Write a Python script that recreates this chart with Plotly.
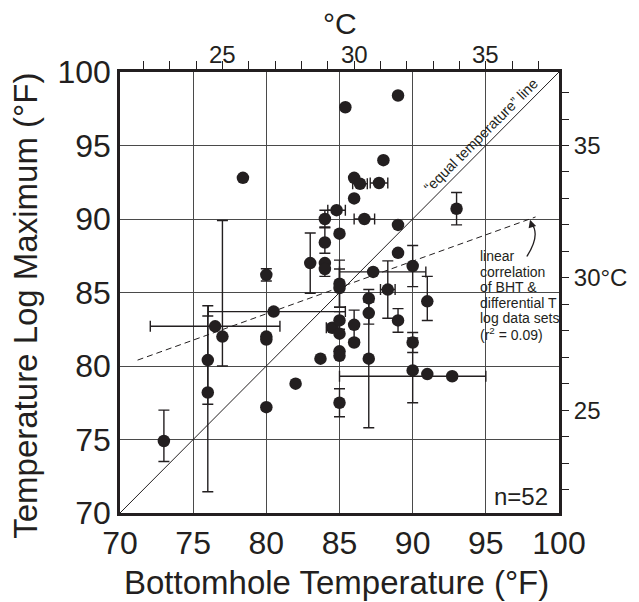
import plotly.graph_objects as go

# ---- data ----
bht = [73.0, 76.0, 76.0, 76.5, 77.0, 78.4, 80.0, 80.0, 80.0, 80.0,
       80.5, 82.0, 83.0, 83.7, 84.0, 84.0, 84.0, 84.0, 84.5, 84.8,
       85.0, 85.0, 85.0, 85.0, 85.0, 85.0, 85.0, 85.0, 85.4, 86.0,
       86.0, 86.0, 86.0, 86.4, 86.7, 87.0, 87.0, 87.0, 87.3, 87.7,
       88.0, 88.3, 89.0, 89.0, 89.0, 89.0, 90.0, 90.0, 90.0, 91.0,
       91.0, 92.7, 93.0]
logmax = [74.9, 80.4, 78.2, 82.7, 82.0, 92.8, 82.0, 81.8, 86.2, 77.2,
          83.7, 78.8, 87.0, 80.5, 90.0, 88.4, 87.0, 86.6, 82.6, 90.6,
          89.0, 85.6, 85.3, 83.1, 82.2, 81.0, 80.7, 77.5, 97.6, 92.8,
          91.4, 82.8, 81.6, 92.4, 90.0, 84.6, 83.6, 80.5, 86.4, 92.45,
          94.0, 85.2, 98.4, 89.6, 87.7, 83.1, 86.8, 81.6, 79.7, 84.4,
          79.45, 79.3, 90.7]
yerr_plus = [2.1, 3.0, 5.9, 0, 7.9, 0, 0, 0, 0.42, 0,
             0, 0, 2.05, 0, 0.6, 1.06, 0, 0, 0, 0,
             0, 1.6, 1.3, 0.6, 0, 0, 0, 0.95, 0, 0,
             0, 1.0, 0, 0, 0, 0, 0.75, 4.7, 0, 0,
             0, 1.95, 0, 0, 0, 0.8, 1.4, 0.68, 2.2, 1.7,
             0, 0, 1.1]
yerr_minus = [1.4, 3.0, 6.75, 0, 2.0, 0, 0, 0, 0.42, 0,
              0, 0, 2.05, 0, 0.6, 0.73, 0, 0.5, 0, 0,
              0, 1.6, 1.3, 0.6, 0, 0, 0, 0.95, 0, 0,
              0, 1.0, 0, 0, 0, 0, 0.75, 4.7, 0, 0,
              0, 1.95, 0, 0, 0, 0.8, 1.4, 0.68, 2.2, 1.3,
              0, 0, 1.1]
xerr_plus = [0, 0, 0, 4.43, 0, 0, 0, 0, 0, 0,
             4.9, 0, 0, 0, 0, 0, 0, 0, 0.4, 0.6,
             0, 0, 0, 0, 0, 0, 0, 0, 0, 0,
             0, 0, 0, 0.5, 0.7, 0, 0, 0, 3.6, 0.6,
             0, 0.5, 0, 0, 0, 0, 0, 0, 0, 0,
             0, 2.3, 0]
xerr_minus = [0, 0, 0, 4.43, 0, 0, 0, 0, 0, 0,
              4.47, 0, 0, 0, 0, 0, 0, 0, 0.4, 0.6,
              0, 0, 0, 0, 0, 0, 0, 0, 0, 0,
              0, 0, 0, 0.5, 0.7, 0, 0, 0, 2.3, 0.6,
              0, 0.5, 0, 0, 0, 0, 0, 0, 0, 0,
              0, 7.7, 0]

# correlation (dashed) line end points
corr_x = [71.2, 98.4]
corr_y = [80.4, 90.14]

f_ticks = [70, 75, 80, 85, 90, 95, 100]
c_ticks = list(range(21, 38))
c_top_labels = [25, 30, 35]
c_labels_right = {25: "25", 30: "30°C", 35: "35"}

FONT = "Liberation Sans, Arial, sans-serif"
INK = "#231f20"


def f2c(f):
    return (f - 32.0) * 5.0 / 9.0


fig = go.Figure()

# y error bars
iy = [i for i in range(len(bht)) if yerr_plus[i] > 0 or yerr_minus[i] > 0]
fig.add_trace(go.Scatter(
    x=[bht[i] for i in iy], y=[logmax[i] for i in iy], mode="markers",
    marker=dict(size=1, color=INK),
    error_y=dict(type="data", symmetric=False,
                 array=[yerr_plus[i] for i in iy],
                 arrayminus=[yerr_minus[i] for i in iy],
                 color=INK, thickness=1.4, width=5.5),
    hoverinfo="skip", showlegend=False))
# x error bars
ix = [i for i in range(len(bht)) if xerr_plus[i] > 0 or xerr_minus[i] > 0]
fig.add_trace(go.Scatter(
    x=[bht[i] for i in ix], y=[logmax[i] for i in ix], mode="markers",
    marker=dict(size=1, color=INK),
    error_x=dict(type="data", symmetric=False,
                 array=[xerr_plus[i] for i in ix],
                 arrayminus=[xerr_minus[i] for i in ix],
                 color=INK, thickness=1.4, width=5.5),
    hoverinfo="skip", showlegend=False))
# points
fig.add_trace(go.Scatter(x=bht, y=logmax, mode="markers",
                         marker=dict(size=12.5, color=INK),
                         hoverinfo="skip", showlegend=False))
# invisible helper for the Celsius axes
fig.add_trace(go.Scatter(x=[f2c(70), f2c(100)], y=[f2c(70), f2c(100)],
                         xaxis="x2", yaxis="y2", mode="markers",
                         marker=dict(opacity=0), hoverinfo="skip",
                         showlegend=False))

# equal temperature line
fig.add_shape(type="line", x0=70, y0=70, x1=100, y1=100, xref="x", yref="y",
              line=dict(color=INK, width=1))
# correlation line
fig.add_shape(type="line", x0=corr_x[0], y0=corr_y[0], x1=corr_x[1], y1=corr_y[1],
              xref="x", yref="y", line=dict(color=INK, width=1, dash="6px,4px"))
# white box behind the correlation note
fig.add_shape(type="rect", x0=94.25, x1=99.85, y0=81.7, y1=88.35, xref="x", yref="y",
              fillcolor="white", line=dict(width=0), layer="below")
# curved arrow
fig.add_shape(type="path", path="M 97.8,87.45 Q 98.75,88.9 98.12,89.7",
              xref="x", yref="y", line=dict(color=INK, width=1.3))
fig.add_annotation(x=98.02, y=89.95, ax=98.13, ay=89.6, xref="x", yref="y",
                   axref="x", ayref="y", showarrow=True, arrowhead=2,
                   arrowsize=1.2, arrowwidth=1.3, arrowcolor=INK, text="")

note = ["linear", "correlation", "of BHT &", "differential T",
        "log data sets", "(r<sup>2</sup> = 0.09)"]
for k, t in enumerate(note):
    fig.add_annotation(x=94.45, y=87.47 - k * 1.053, xref="x", yref="y",
                       text=t, showarrow=False, xanchor="left", yanchor="middle",
                       font=dict(family=FONT, size=14, color=INK))

fig.add_annotation(x=94.7, y=95.7, xref="x", yref="y",
                   text="“equal temperature” line", textangle=-45,
                   showarrow=False, font=dict(family=FONT, size=14.5, color=INK))
fig.add_annotation(x=99.4, y=71.1, xref="x", yref="y", text="n=52",
                   showarrow=False, xanchor="right", yanchor="middle",
                   font=dict(family=FONT, size=24, color=INK))

# top Celsius tick labels
for c in c_top_labels:
    fig.add_annotation(x=c, y=1.0408, xref="x2", yref="paper", text=str(c),
                       showarrow=False, xanchor="center", yanchor="middle",
                       font=dict(family=FONT, size=24, color=INK))

# axis titles
fig.add_annotation(x=0.493, y=-0.158, xref="paper", yref="paper",
                   text="Bottomhole Temperature (°F)", showarrow=False,
                   xanchor="center", yanchor="middle",
                   font=dict(family=FONT, size=33, color=INK))
fig.add_annotation(x=-0.215, y=0.469, xref="paper", yref="paper",
                   text="Temperature Log Maximum (°F)", showarrow=False,
                   textangle=-90, xanchor="center", yanchor="middle",
                   font=dict(family=FONT, size=33, color=INK))
fig.add_annotation(x=0.502, y=1.1111, xref="paper", yref="paper",
                   text="°C", showarrow=False, xanchor="center", yanchor="middle",
                   font=dict(family=FONT, size=30, color=INK))

grid = dict(showgrid=True, gridcolor="#4a4a4a", gridwidth=1.2)
fig.update_layout(
    width=639, height=602,
    margin=dict(l=120, r=77, t=72, b=89),
    paper_bgcolor="white", plot_bgcolor="white",
    font=dict(family=FONT, color=INK),
    xaxis=dict(range=[70, 100], tickvals=f_ticks, ticks="", zeroline=False,
               showline=True, linecolor=INK, linewidth=2.5, mirror=True,
               tickfont=dict(size=32), **grid),
    yaxis=dict(range=[70, 100], tickvals=f_ticks, ticks="", zeroline=False,
               showline=True, linecolor=INK, linewidth=2.5, mirror=True,
               tickfont=dict(size=32), **grid),
    xaxis2=dict(overlaying="x", side="top", range=[f2c(70), f2c(100)],
                tickvals=c_ticks, showticklabels=False,
                ticks="outside", ticklen=10, tickwidth=1.2, tickcolor=INK,
                showgrid=False, zeroline=False, showline=False),
    yaxis2=dict(overlaying="y", side="right", range=[f2c(70), f2c(100)],
                tickvals=c_ticks,
                ticktext=[c_labels_right.get(c, "") for c in c_ticks],
                ticks="outside", ticklen=9, tickwidth=1.2, tickcolor=INK,
                showgrid=False, zeroline=False, showline=False,
                tickfont=dict(size=24)),
)

fig.write_html("out.html")
